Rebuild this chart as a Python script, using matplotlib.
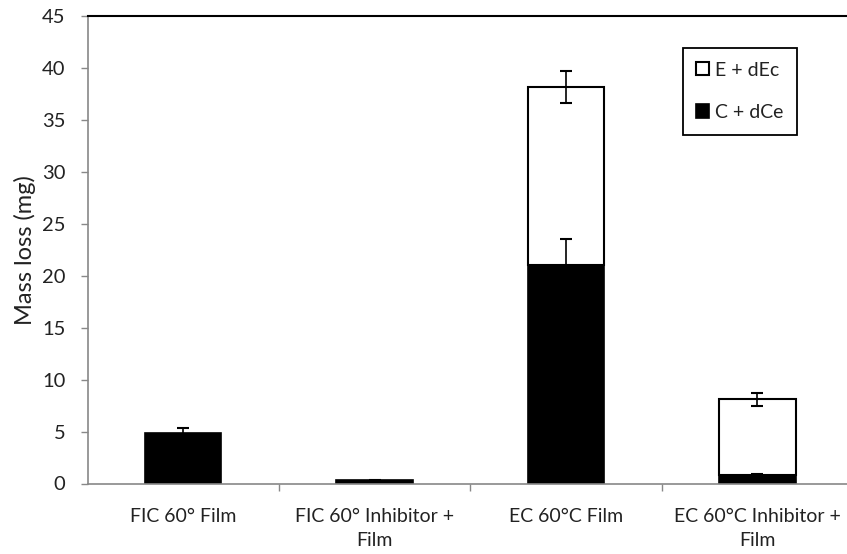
import matplotlib
matplotlib.use("Agg")
import matplotlib.pyplot as plt
import numpy as np

categories = ["FIC 60° Film", "FIC 60° Inhibitor +\nFilm", "EC 60°C Film", "EC 60°C Inhibitor +\nFilm"]
c_dce = [4.85, 0.3, 21.0, 0.8]
c_dce_err = [0.5, 0.08, 2.5, 0.1]
e_dec = [0.0, 0.0, 17.2, 7.3]
total_err = [0.0, 0.0, 1.55, 0.65]

plt.rcParams['font.family'] = ['Lato', 'DejaVu Sans']
plt.rcParams['text.color'] = '#222222'

W, H = 847, 554
fig = plt.figure(figsize=(W/100, H/100), dpi=100)
ax = fig.add_axes([87.5/W, 1-483.5/H, (853-87.5)/W, (483.5-16)/H])

x = np.arange(len(categories))
w = 0.40
ax.bar(x, c_dce, w, color='black', edgecolor='black', linewidth=1.2, label='C + dCe', zorder=2)
tops = np.array(c_dce) + np.array(e_dec)
mask = np.array(e_dec) > 0
ax.bar(x[mask], np.array(e_dec)[mask], w, bottom=np.array(c_dce)[mask], color='white',
       edgecolor='black', linewidth=1.5, label='E + dEc', zorder=2)
ax.errorbar(x, c_dce, yerr=[c_dce_err, c_dce_err], fmt='none', ecolor='black',
            elinewidth=1.2, capsize=4.3, capthick=1.5, zorder=3)
ax.errorbar(x[mask], tops[mask], yerr=np.array(total_err)[mask], fmt='none', ecolor='black',
            elinewidth=1.2, capsize=4.3, capthick=1.5, zorder=3)

ax.set_xlim(-0.5, 3.5)
ax.set_ylim(0, 45)
ax.set_yticks(np.arange(0, 46, 5))
ax.set_xticks(x)
ax.set_xticklabels(categories, fontsize=14, linespacing=1.5, color='#222222')
ax.set_xticks(np.arange(0.5, 3.5, 1), minor=True)
ax.tick_params(axis='x', which='major', length=0, pad=18)
ax.tick_params(axis='x', which='minor', length=5, color='#888888', width=1)
ax.tick_params(axis='y', length=5, color='#888888', width=1, labelsize=14.5, pad=11,
               labelcolor='#222222')
ax.set_ylabel('Mass loss (mg)', fontsize=17, labelpad=4, color='#222222')

for s in ['left', 'bottom']:
    ax.spines[s].set_color('#888888')
    ax.spines[s].set_linewidth(1.2)
ax.spines['right'].set_visible(False)
ax.spines['top'].set_color('black')
ax.spines['top'].set_linewidth(1.5)

handles, labels = ax.get_legend_handles_labels()
leg = ax.legend(handles[::-1], labels[::-1], loc='upper right',
                bbox_to_anchor=(797/W, 1-48/H), bbox_transform=fig.transFigure,
                fontsize=14, frameon=True, fancybox=False, edgecolor='black', framealpha=1,
                handlelength=0.67, handleheight=0.67, handletextpad=0.3, labelspacing=1.3,
                borderpad=0.7, borderaxespad=0)
leg.get_frame().set_linewidth(1.3)

fig.savefig('out.png', dpi=100)
